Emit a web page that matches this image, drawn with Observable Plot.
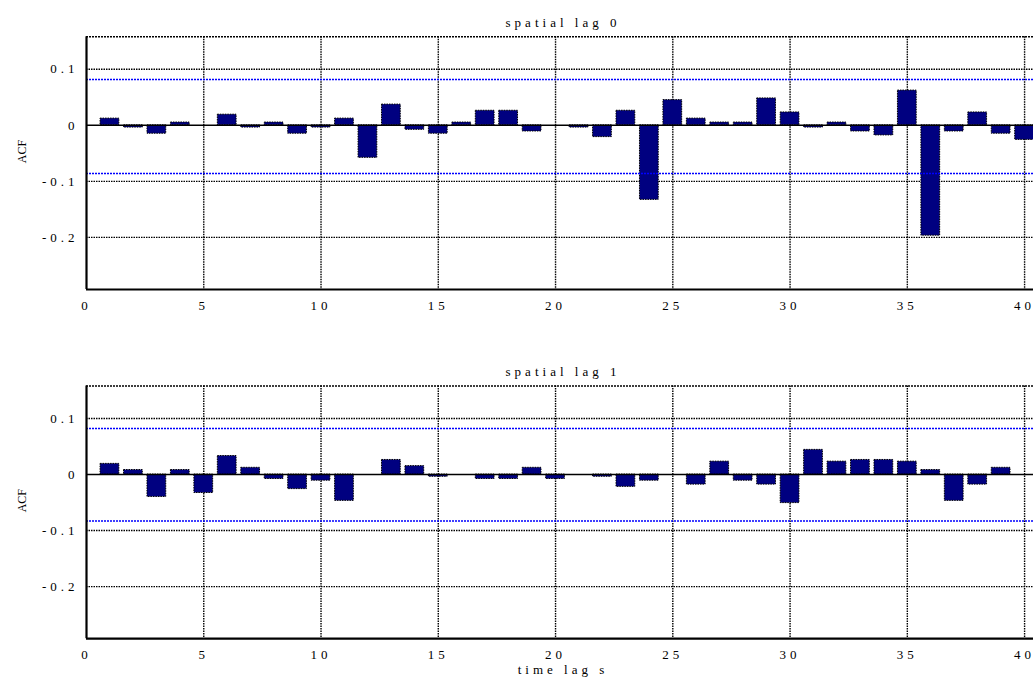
<!DOCTYPE html>
<html>
<head>
<meta charset="utf-8">
<script src="https://cdn.jsdelivr.net/npm/d3@7"></script>
<script src="https://cdn.jsdelivr.net/npm/@observablehq/plot@0.6"></script>
<style>
  html, body { margin: 0; padding: 0; background: #fff; }
  #fig { position: relative; width: 1033px; height: 683px; overflow: hidden; }
  #fig svg { position: absolute; left: 0; overflow: visible; }
  #fig svg text { white-space: pre; font-family: 'Liberation Serif', 'Times New Roman', serif !important; }
</style>
</head>
<body>
<div id="fig"></div>
<script>
// ---- data ----
const lags = [1,2,3,4,5,6,7,8,9,10,11,12,13,14,15,16,17,18,19,20,21,22,23,24,25,26,27,28,29,30,31,32,33,34,35,36,37,38,39,40];
const acfSpatial0 = [0.012,-0.004,-0.015,0.005,0,0.019,-0.004,0.005,-0.015,-0.004,0.012,-0.058,0.037,-0.008,-0.015,0.005,0.026,0.026,-0.011,0,-0.004,-0.021,0.026,-0.133,0.045,0.012,0.005,0.005,0.048,0.023,-0.004,0.005,-0.011,-0.018,0.062,-0.197,-0.011,0.023,-0.015,-0.026];
const acfSpatial1 = [0.019,0.008,-0.040,0.008,-0.033,0.033,0.012,-0.008,-0.026,-0.011,-0.047,0,0.026,0.015,-0.004,0,-0.008,-0.008,0.012,-0.008,0,-0.004,-0.022,-0.011,0,-0.018,0.023,-0.011,-0.018,-0.051,0.044,0.023,0.026,0.026,0.023,0.008,-0.047,-0.018,0.012,0];
const bounds0 = [0.082, -0.086];
const bounds1 = [0.082, -0.083];
const titles = ["spatial lag 0", "spatial lag 1"];
const xTicks = [0,5,10,15,20,25,30,35,40];
const yTicks = [0.1, 0, -0.1, -0.2];
const xLabel = "time lag s";
const yLabel = "ACF";

const FONT = "'Liberation Serif', 'Times New Roman', serif";
const SPACING = 4;

// spread characters with per-glyph dx (no trailing spacing)
function spread(svg) {
  d3.select(svg).selectAll("text").each(function() {
    const t = this.textContent;
    if (t === yLabel || t.length < 2) return;
    const sel = d3.select(this);
    sel.text(null);
    [...t].forEach((ch, i) => {
      sel.append("tspan").attr("dx", i === 0 ? null : SPACING).text(ch);
    });
  });
}

function panel(values, bounds, title, opts) {
  const data = lags.map((l, i) => ({lag: l, acf: values[i]}));
  const marks = [
    // grid
    Plot.ruleX(xTicks.filter(d => d > 0), {stroke: "#000", strokeWidth: 1.4, strokeDasharray: "1.5,1"}),
    Plot.ruleY(yTicks.filter(d => d !== 0), {stroke: "#000", strokeWidth: 1.4, strokeDasharray: "1.5,1"}),
    // bars
    Plot.rectY(data, {x1: d => d.lag - 0.4, x2: d => d.lag + 0.4, y1: 0, y2: "acf",
      fill: "#000080", stroke: "#000", strokeWidth: 1, strokeDasharray: "1.5,1"}),
    // confidence bounds
    Plot.ruleY(bounds, {stroke: "#0000ff", strokeWidth: 1.5, strokeDasharray: "2,1"}),
    // baseline
    Plot.ruleY([0], {stroke: "#000", strokeWidth: 1.5}),
    // frame
    Plot.ruleY([opts.yDomain[1]], {stroke: "#000", strokeWidth: 1.6, strokeDasharray: "2,1"}),
    Plot.ruleY([opts.yDomain[0]], {stroke: "#000", strokeWidth: 2.2}),
    Plot.ruleX([0], {stroke: "#000", strokeWidth: 2.2}),
    // axes
    Plot.axisX(xTicks, {label: null, tickSize: 0, tickPadding: 11, dx: -2, tickFormat: d => String(d), fontSize: 13, fill: "#000"}),
    Plot.axisY(yTicks, {label: null, tickSize: 0, tickPadding: 12, tickFormat: d => d === 0 ? "0" : d.toFixed(1).replace("\u2212", "-"), fontSize: 13, fill: "#000"}),
    // title
    Plot.text([title], {frameAnchor: "top", dy: -19, dx: 1, fontSize: 13, fill: "#000"}),
    // y label
    Plot.text([yLabel], {frameAnchor: "left", dx: -64, rotate: -90, fontSize: 12, fill: "#000"})
  ];
  if (opts.xLabel) {
    marks.push(Plot.text([opts.xLabel], {frameAnchor: "bottom", dy: 35, dx: 1, fontSize: 13, fill: "#000"}));
  }
  const svg = Plot.plot({
    width: 1033,
    height: opts.height,
    marginLeft: 86,
    marginRight: 0,
    marginTop: opts.marginTop,
    marginBottom: opts.height - opts.marginTop - 252.7,
    style: {fontFamily: FONT, fontSize: "13px", background: "transparent", overflow: "visible"},
    x: {domain: [0, 40.38], axis: null},
    y: {domain: opts.yDomain, axis: null},
    marks
  });
  svg.style.top = opts.top + "px";
  spread(svg);
  return svg;
}

const fig = document.getElementById("fig");
const yDomain = [-0.293, 0.158];
fig.appendChild(panel(acfSpatial0, bounds0, titles[0], {top: 0, height: 350, marginTop: 36.3, yDomain}));
fig.appendChild(panel(acfSpatial1, bounds1, titles[1], {top: 349.5, height: 333.5, marginTop: 35.5, yDomain, xLabel}));
</script>
</body>
</html>
